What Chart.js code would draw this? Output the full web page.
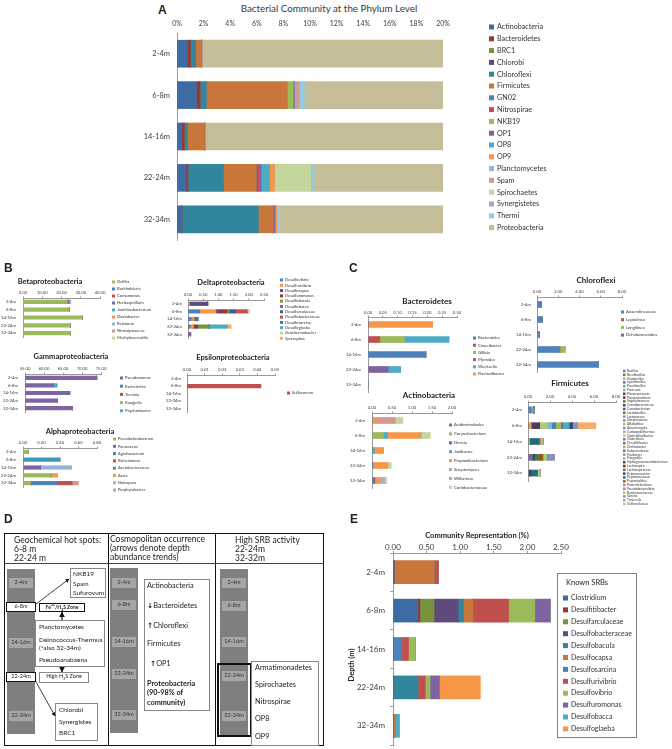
<!DOCTYPE html>
<html><head><meta charset="utf-8">
<script src="https://cdn.jsdelivr.net/npm/chart.js@4.4.1/dist/chart.umd.min.js"></script>
<style>
html,body{margin:0;padding:0;background:#fff;}
#page{position:relative;width:672px;height:749px;overflow:hidden;font-family:Lato,'Liberation Sans',sans-serif;color:#222;}
#page canvas{position:absolute;left:0;top:0;}
.t{position:absolute;white-space:nowrap;line-height:1;}
.b{position:absolute;box-sizing:border-box;}
</style></head><body><div id="page"></div>
<script>
// ---------------- DATA ----------------
const depths = ['2-4m','6-8m','14-16m','22-24m','32-34m'];

// Panel A – phylum level (% of community)
const phyla = ['Actinobacteria','Bacteroidetes','BRC1','Chlorobi','Chloroflexi','Firmicutes','GN02','Nitrospirae','NKB19','OP1','OP8','OP9','Planctomycetes','Spam','Spirochaetes','Synergistetes','Thermi','Proteobacteria'];
const phylumColors = ['#3D6CA4','#953735','#77933C','#604A7B','#31859C','#C8763A','#4F81BD','#C0504D','#9BBB59','#8064A2','#4BACC6','#F79646','#95B3D7','#D99694','#C3D69B','#B3A2C7','#93CDDD','#C4BD97'];
const phylumValues = [
  [0.78, 1.46, 0.35, 0.68, 0.37],
  [0.22, 0.27, 0.19, 0.11, 0],
  [0, 0, 0, 0.03, 0],
  [0, 0, 0, 0.03, 0],
  [0.41, 0.48, 0.25, 2.65, 5.75],
  [0.45, 6.05, 1.30, 2.45, 1.10],
  [0, 0, 0, 0, 0],
  [0, 0, 0, 0.25, 0.02],
  [0, 0.48, 0, 0, 0],
  [0, 0.08, 0, 0.12, 0.12],
  [0, 0, 0, 0.65, 0.02],
  [0, 0, 0, 0.35, 0.12],
  [0, 0.12, 0, 0, 0],
  [0, 0.25, 0, 0, 0],
  [0, 0, 0, 2.75, 0],
  [0, 0, 0, 0.03, 0],
  [0, 0.38, 0, 0.20, 0.22],
  [98.14, 90.46, 97.91, 89.74, 92.28]
];
const phylumTicks = ['0%','2%','4%','6%','8%','10%','12%','14%','16%','18%','20%'];

// Panel B – Proteobacteria classes
const betaNames = ['Delftia','Burkholderia','Comamonas','Herbaspirillum','Janthinobacterium','Oxalobacter','Ralstonia','Nitrosipiraceae','Methyloversatilis'];
const betaColors = ['#9BBB59','#4F81BD','#C0504D','#8064A2','#4BACC6','#F79646','#95B3D7','#D99694','#C3D69B'];
const betaValues = [
  [23.0, 24.0, 30.8, 24.6, 24.6],
  [0,0,0,0,0],[0,0,0,0,0],
  [0.8,0,0,0,0],
  [0,0,0.2,0,0],
  [0,0,0,0,0],
  [1.0,0,0,0,0],
  [0,0,0,0,0],
  [0,0.2,0,0.2,0.2]
];
const betaTicks = ['0.00','10.00','20.00','30.00','40.00'];

const deltaNames = ['Desulfovibrio','Desulfurivibrio','Desulfocapsa','Desulfuromonas','Desulfobacula','Desulfobacca','Desulfarculaceae','Desulfobacteraceae','Desulfosarcina','Desulfoglaeba','Geothermobacter','Syntrophus'];
const deltaColors = ['#4F81BD','#F79646','#604A7B','#953735','#77933C','#8064A2','#376092','#C0504D','#31859C','#4BACC6','#C3D69B','#F9AB6B'];
const deltaValues = [
  [0, 0.39, 0.10, 0.07, 0],
  [0.05, 0.53, 0.10, 0.11, 0],
  [0.60, 0.14, 0, 0, 0.02],
  [0, 0.22, 0, 0.14, 0],
  [0, 0.08, 0, 0.37, 0],
  [0, 0, 0, 0, 0.07],
  [0, 0.21, 0, 0, 0],
  [0, 0.37, 0, 0, 0],
  [0, 0, 0.13, 0, 0],
  [0, 0, 0, 0.61, 0],
  [0, 0.08, 0, 0, 0],
  [0, 0, 0, 0.12, 0]
];
const deltaTicks = ['0.00','0.50','1.00','1.50','2.00','2.50'];

const gammaNames = ['Pseudomonas','Escherichia','Yersinia','Kangiella','Psychrobacter'];
const gammaColors = ['#8064A2','#4F81BD','#C0504D','#9BBB59','#4BACC6'];
const gammaValues = [
  [73.9, 62.5, 66.8, 63.6, 67.5],
  [0,0,0,0,0],[0,0,0,0,0],[0,0,0,0,0],
  [0, 1.0, 0, 0, 0]
];
const gammaTicks = ['55.00','60.00','65.00','70.00','75.00'];

const epsilonNames = ['Sulfurovum'];
const epsilonColors = ['#C0504D'];
const epsilonValues = [[0, 0.042, 0, 0, 0]];
const epsilonTicks = ['0.00','0.01','0.02','0.03','0.04','0.05'];

const alphaNames = ['Pseudochrobactrum','Paracoccus','Agrobacterium','Balneimonas','Acetobacteraceae','Asaia','Holospora','Porphyrobacter'];
const alphaColors = ['#9BBB59','#8064A2','#4F81BD','#C0504D','#3C9AB8','#F79646','#95B3D7','#D99694'];
const alphaValues = [
  [0.058, 0, 0, 0.30, 0.08],
  [0, 0, 0.19, 0, 0],
  [0, 0, 0, 0, 0.29],
  [0, 0, 0, 0, 0.16],
  [0, 0.40, 0, 0, 0],
  [0, 0, 0, 0.07, 0],
  [0, 0, 0.335, 0, 0],
  [0, 0, 0, 0, 0.07]
];
const alphaTicks = ['0.00','0.20','0.40','0.60','0.80'];

// Panel C – other phyla
const bactNames = ['Bacteroides','Croceibacter','Gillisia','Myroides','Weeksella','Flavisolibacter'];
const bactColors = ['#4F81BD','#C0504D','#9BBB59','#8064A2','#4BACC6','#F79646'];
const bactValues = [
  [0, 0, 0.195, 0, 0],
  [0, 0.04, 0, 0, 0],
  [0, 0.083, 0, 0, 0],
  [0, 0, 0, 0.068, 0],
  [0, 0.15, 0, 0.042, 0],
  [0.218, 0, 0, 0, 0]
];
const bactTicks = ['0.00','0.05','0.10','0.15','0.20','0.25','0.30'];

const actNames = ['Acidimicrobiales','Corynebacterium','Dietzia','Janibacter','Propionibacterium','Streptomyces','Williamsia','Coriobacteriaceae'];
const actColors = ['#4F81BD','#9BBB59','#8064A2','#4BACC6','#F79646','#95B3D7','#D99694','#C3D69B'];
const actValues = [
  [0, 0, 0, 0.02, 0],
  [0, 0.29, 0, 0, 0],
  [0, 0, 0, 0, 0.07],
  [0, 0.10, 0.06, 0, 0],
  [0.14, 0.82, 0.23, 0.37, 0.14],
  [0, 0.03, 0, 0, 0.10],
  [0.44, 0, 0, 0, 0],
  [0.19, 0.22, 0, 0.09, 0.06]
];
const actTicks = ['0.00','0.50','1.00','1.50','2.00'];

const chlNames = ['Anaerolineaceae','Leptolinea','Longilinea','Dehalococcoides'];
const chlColors = ['#4F81BD','#C0504D','#9BBB59','#8064A2'];
const chlValues = [
  [0.41, 0.50, 0.25, 2.15, 5.80],
  [0,0,0,0,0],
  [0, 0, 0, 0.50, 0],
  [0,0,0,0,0]
];
const chlTicks = ['0.00','2.00','4.00','6.00','8.00'];

const firmNames = ['Bacillus','Brevibacillus','Geobacillus','Lysinibacillus','Paenibacillus','Pasteuria','Planococcaceae','Planomicrobium','Staphylococcus','Carnobacteriaceae','Carnobacterium','Lactobacillus','Lactococcus','Streptococcus','Alkaliphilus','Anaerovirgula','Carboxydothermus','Clostridiisalibacter','Clostridium','Desulfitibacter','Dethiobacter','Eubacteriaceae','Fusibacter','Finegoldia','Hydrogenoanaerobacterium','Lachnospira','Lachnospiraceae','Pelotomaculum','Peptococcaceae','Peptoniphilus','Proteiniclasticum','Pseudobutyrivibrio','Ruminococcaceae','Sarcina','Tissierella','Veillonellaceae'];
const firmPalette = ['#4F81BD','#C0504D','#9BBB59','#8064A2','#4BACC6','#F79646','#2C4D75','#772C2A','#5F7530','#4D3B62','#276A7C','#B65708','#729ACA','#CD7371','#AFC97A','#9983B5','#6FBDD1','#F9AB6B'];
const firmValues = [
  [0.20,0,0,0,0],[0,0,0,0,0],[0,0,0.15,0,0],[0,0,0,0.35,0],[0.33,0,0,0,0],
  [0,0.30,0,0,0],[0,0,0,0.25,0.25],[0,0,0,0,0],[0,0,0,0.50,0],[0,0.76,0,0,0],
  [0,0,0.85,0,0.60],[0,0,0,0.25,0],[0,0,0,0,0],[0,0,0.15,0,0],[0,0.76,0.20,0.35,0.25],
  [0,0,0,0,0],[0,0.30,0,0,0],[0,0,0,0,0],[0,0.37,0,0,0],[0,0.03,0,0,0],
  [0,0.45,0,0,0],[0,0.20,0,0,0],[0,0.55,0,0,0],[0,0,0,0,0],[0,0.30,0,0,0],
  [0,0,0,0,0],[0,0,0,0,0],[0,0,0,0,0],[0,0,0,0,0],[0,0,0,0,0],
  [0,0.45,0,0.40,0],[0,0,0,0,0],[0,0,0,0,0],[0,0,0,0.30,0],[0,0,0,0,0],
  [0,1.70,0,0,0]
];
const firmTicks = ['0.00','2.00','4.00','6.00','8.00'];

// Panel E – known sulfate-reducing bacteria
const srbNames = ['Clostridium','Desulfitibacter','Desulfarculaceae','Desulfobacteraceae','Desulfobacula','Desulfocapsa','Desulfosarcina','Desulfurivibrio','Desulfovibrio','Desulfuromonas','Desulfobacca','Desulfoglaeba'];
const srbColors = ['#3D6CA4','#953735','#77933C','#604A7B','#31859C','#C8763A','#4F81BD','#C0504D','#9BBB59','#8064A2','#4BACC6','#F79646'];
const srbValues = [
  [0.015, 0.37, 0, 0, 0],
  [0, 0.03, 0, 0, 0],
  [0, 0.21, 0, 0, 0],
  [0, 0.36, 0, 0, 0],
  [0, 0.08, 0, 0.37, 0],
  [0.60, 0.14, 0, 0, 0.025],
  [0, 0, 0.13, 0, 0],
  [0.06, 0.53, 0.10, 0.11, 0],
  [0, 0.39, 0.10, 0.07, 0],
  [0, 0.23, 0, 0.14, 0],
  [0, 0, 0, 0, 0.07],
  [0, 0, 0, 0.61, 0]
];
const srbTicks = ['0.00','0.50','1.00','1.50','2.00','2.50'];

// ---------------- HELPERS ----------------
const page = document.getElementById('page');
const W = 672, H = 749;
const FONT = "Lato, 'Liberation Sans', sans-serif";

function txt(s, x, y, size, o = {}) {
  const d = document.createElement('div');
  d.className = 't';
  if (o.html) d.innerHTML = s; else d.textContent = s;
  d.style.left = x + 'px'; d.style.top = y + 'px';
  d.style.fontSize = size + 'px';
  d.style.fontWeight = o.bold ? '700' : '400';
  d.style.color = o.color || '#222';
  if (o.family) d.style.fontFamily = o.family;
  const tx = o.align === 'center' ? '-50%' : (o.align === 'right' ? '-100%' : '0');
  d.style.transform = `translate(${tx},-50%)` + (o.rot ? ` rotate(${o.rot}deg)` : '');
  page.appendChild(d);
  return d;
}
function box(x, y, w, h, border, bg) {
  const d = document.createElement('div');
  d.className = 'b';
  d.style.cssText += `left:${x}px;top:${y}px;width:${w}px;height:${h}px;border:${border || 'none'};background:${bg || 'transparent'};`;
  page.appendChild(d);
  return d;
}

const legendPlugin = {
  id: 'boxLegend',
  afterDraw(chart, args, o) {
    if (!o || o.x === undefined) return;
    const ctx = chart.ctx;
    ctx.save();
    ctx.font = `${o.size}px ${FONT}`;
    ctx.textBaseline = 'middle';
    chart.data.datasets.forEach((ds, i) => {
      const y = o.y + i * o.dy;
      ctx.fillStyle = ds.backgroundColor;
      ctx.fillRect(o.x, y - o.box / 2, o.box, o.box);
      ctx.fillStyle = '#333';
      ctx.fillText(ds.label, o.x + o.box + o.gap, y);
    });
    ctx.restore();
  }
};

function hbar(cfg) {
  const c = document.createElement('canvas');
  c.width = W; c.height = H;
  c.style.width = W + 'px'; c.style.height = H + 'px';
  page.appendChild(c);
  const a = cfg.area;
  const xtl = cfg.xTickLen || 0;
  const ytl = cfg.yTickLen || 0;
  const tickPad = a.t - cfg.tickY - 0.6 * cfg.tick - xtl;
  const catPad = a.l - cfg.catRight - ytl;
  return new Chart(c, {
    type: 'bar',
    data: {
      labels: depths,
      datasets: cfg.names.map((n, i) => ({
        label: n, data: cfg.values[i], backgroundColor: cfg.colors[i],
        borderWidth: 0, barThickness: cfg.thick, categoryPercentage: 1, barPercentage: 1
      }))
    },
    options: {
      indexAxis: 'y', responsive: false, animation: false, devicePixelRatio: 1,
      layout: { padding: { left: 0, top: 0, right: W - a.r, bottom: H - a.b } },
      plugins: { legend: { display: false }, tooltip: { enabled: false }, title: { display: false }, boxLegend: cfg.legend },
      scales: {
        x: {
          position: 'top', stacked: true, min: cfg.min, max: cfg.max,
          ticks: { stepSize: cfg.step, autoSkip: false, maxRotation: 0, minRotation: 0,
            callback: (v, i) => cfg.tickLabels[i], font: { family: FONT, size: cfg.tick }, color: '#404040', padding: tickPad },
          grid: { display: xtl > 0, drawOnChartArea: false, drawTicks: xtl > 0, tickLength: xtl, color: '#9a9a9a' },
          border: { display: !!cfg.xBorder, color: '#9a9a9a' },
          afterFit(s) { s.height = a.t; s.paddingLeft = 0; s.paddingRight = 0; }
        },
        y: {
          stacked: true,
          ticks: { autoSkip: false, font: { family: FONT, size: cfg.cat }, color: '#404040', padding: catPad },
          grid: { display: ytl > 0, offset: true, drawOnChartArea: false, drawTicks: ytl > 0, tickLength: ytl, color: '#9a9a9a' },
          border: { display: true, color: '#9a9a9a' },
          afterFit(s) { s.width = a.l; s.paddingTop = 0; s.paddingBottom = 0; }
        }
      }
    },
    plugins: [legendPlugin]
  });
}

// ---------------- PANEL A ----------------
txt('A', 158, 10, 12, { bold: true, family: "'Liberation Sans',Arial,sans-serif" });
txt('Bacterial Community at the Phylum Level', 329, 9, 9.8, { align: 'center', color: '#3a3a3a' });
hbar({ area: { l: 177, t: 33, r: 443, b: 240 }, thick: 27, min: 0, max: 20, step: 2, tickLabels: phylumTicks,
  tick: 7, tickY: 24, cat: 7.5, catRight: 170, names: phyla, colors: phylumColors, values: phylumValues,
  legend: { x: 489, y: 27, dy: 11.8, box: 5, gap: 3, size: 7.2 } });

// ---------------- PANEL B ----------------
txt('B', 4, 268, 12, { bold: true, family: "'Liberation Sans',Arial,sans-serif" });
txt('Betaproteobacteria', 50, 282, 7.5, { bold: true, align: 'center' });
hbar({ area: { l: 23, t: 298, r: 100, b: 337 }, thick: 3.5, min: 0, max: 40, step: 10, tickLabels: betaTicks,
  tick: 4.2, tickY: 293, cat: 4.3, catRight: 16, xBorder: true, xTickLen: 1.5, names: betaNames, colors: betaColors, values: betaValues,
  legend: { x: 112, y: 282, dy: 7, box: 3, gap: 2, size: 4.2 } });

txt('Deltaproteobacteria', 231, 283, 7.5, { bold: true, align: 'center' });
hbar({ area: { l: 188, t: 300, r: 264, b: 338 }, thick: 3.5, min: 0, max: 2.5, step: 0.5, tickLabels: deltaTicks,
  tick: 4.2, tickY: 295, cat: 4.3, catRight: 182, xBorder: true, xTickLen: 1.5, names: deltaNames, colors: deltaColors, values: deltaValues,
  legend: { x: 280, y: 280, dy: 5.3, box: 3, gap: 2, size: 4 } });

txt('Gammaproteobacteria', 71, 357, 7.5, { bold: true, align: 'center' });
hbar({ area: { l: 25, t: 374, r: 101, b: 412 }, thick: 3.5, min: 55, max: 75, step: 5, tickLabels: gammaTicks,
  tick: 4.2, tickY: 369, cat: 4.3, catRight: 18, xBorder: true, xTickLen: 1.5, names: gammaNames, colors: gammaColors, values: gammaValues,
  legend: { x: 120, y: 378, dy: 8.2, box: 3, gap: 2, size: 4.2 } });

txt('Epsilonproteobacteria', 233, 358, 7.5, { bold: true, align: 'center' });
hbar({ area: { l: 187, t: 375, r: 275, b: 412 }, thick: 3.5, min: 0, max: 0.05, step: 0.01, tickLabels: epsilonTicks,
  tick: 4.2, tickY: 370, cat: 4.3, catRight: 181, xBorder: true, xTickLen: 1.5, names: epsilonNames, colors: epsilonColors, values: epsilonValues,
  legend: { x: 287, y: 393, dy: 0, box: 3, gap: 2, size: 4.2 } });

txt('Alphaproteobacteria', 80, 432, 7.5, { bold: true, align: 'center' });
hbar({ area: { l: 23, t: 448, r: 97, b: 487 }, thick: 3.5, min: 0, max: 0.8, step: 0.2, tickLabels: alphaTicks,
  tick: 4.2, tickY: 443, cat: 4.3, catRight: 16, xBorder: true, xTickLen: 1.5, names: alphaNames, colors: alphaColors, values: alphaValues,
  legend: { x: 113, y: 439, dy: 7.3, box: 3, gap: 2, size: 4 } });

// ---------------- PANEL C ----------------
txt('C', 349, 268, 12, { bold: true, family: "'Liberation Sans',Arial,sans-serif" });
txt('Bacteroidetes', 427, 301, 8, { bold: true, align: 'center' });
hbar({ area: { l: 368, t: 317, r: 457, b: 392 }, thick: 6, min: 0, max: 0.3, step: 0.05, tickLabels: bactTicks,
  tick: 4.2, tickY: 313, cat: 4.3, catRight: 361, xBorder: true, xTickLen: 1.5, names: bactNames, colors: bactColors, values: bactValues,
  legend: { x: 473, y: 338, dy: 7.2, box: 3, gap: 2, size: 4.2 } });

txt('Actinobacteria', 429, 395, 8, { bold: true, align: 'center' });
hbar({ area: { l: 372, t: 413, r: 452, b: 488 }, thick: 6, min: 0, max: 2, step: 0.5, tickLabels: actTicks,
  tick: 4.2, tickY: 408, cat: 4.3, catRight: 365, xBorder: true, xTickLen: 1.5, names: actNames, colors: actColors, values: actValues,
  legend: { x: 449, y: 425, dy: 8.9, box: 3, gap: 2, size: 4.2 } });

txt('Chloroflexi', 596, 280, 8, { bold: true, align: 'center' });
hbar({ area: { l: 537, t: 297, r: 622, b: 372 }, thick: 6, min: 0, max: 8, step: 2, tickLabels: chlTicks,
  tick: 4.2, tickY: 292, cat: 4.3, catRight: 531, xBorder: true, xTickLen: 1.5, names: chlNames, colors: chlColors, values: chlValues,
  legend: { x: 621, y: 312, dy: 7.7, box: 3, gap: 2, size: 4.2 } });

txt('Firmicutes', 570, 383, 8, { bold: true, align: 'center' });
hbar({ area: { l: 528, t: 402, r: 616, b: 481 }, thick: 6, min: 0, max: 8, step: 2, tickLabels: firmTicks,
  tick: 4.2, tickY: 397, cat: 4.3, catRight: 522, xBorder: true, xTickLen: 1.5, names: firmNames,
  colors: firmNames.map((n, i) => firmPalette[i % firmPalette.length]), values: firmValues,
  legend: { x: 623, y: 371, dy: 3.8, box: 2.5, gap: 1.5, size: 3.3 } });

// ---------------- PANEL E ----------------
txt('E', 350, 519, 12, { bold: true, family: "'Liberation Sans',Arial,sans-serif" });
txt('Community Representation (%)', 477, 536, 7.5, { bold: true, align: 'center' });
txt('Depth (m)', 352, 665, 7.5, { bold: true, align: 'center', rot: -90 });
hbar({ area: { l: 393, t: 553, r: 561, b: 745 }, thick: 23, min: 0, max: 2.5, step: 0.5, tickLabels: srbTicks,
  tick: 8, tickY: 547, cat: 8, catRight: 385, xBorder: true, xTickLen: 2, yTickLen: 3, names: srbNames, colors: srbColors, values: srbValues,
  legend: { x: 563, y: 598, dy: 11.9, box: 5, gap: 3, size: 7 } });
box(557, 573, 80, 165, '1px solid #7f7f7f');
txt('Known SRBs', 566, 583, 7.5);

// ---------------- PANEL D ----------------
txt('D', 4, 519, 12, { bold: true, family: "'Liberation Sans',Arial,sans-serif" });
box(4, 533, 320, 213, '1.5px solid #111');
box(108, 533, 1, 213, 'none', '#111');
box(215, 533, 1, 213, 'none', '#111');
box(5, 563, 318, 1, 'none', '#444');

txt('Geochemical hot spots:', 14, 540, 8.5);
txt('6-8 m', 14, 549, 8.5);
txt('22-24 m', 14, 558, 8.5);
txt('Cosmopolitan occurrence', 110, 539, 8.5);
txt('(arrows denote depth', 110, 548, 8.5);
txt('abundance trends)', 110, 557, 8.5);
txt('High SRB activity', 235, 540, 8.5);
txt('22-24m', 235, 549, 8.5);
txt('32-32m', 235, 558, 8.5);

function depthColumn(x, top, bottom, ys, special) {
  box(x, top, 28, bottom - top, 'none', '#7f7f7f');
  depths.forEach((d, i) => {
    if (special && special.includes(i)) {
      box(x - 1, ys[i] - 5, 30, 10, '1.5px solid #111', '#fff');
      txt(d, x + 14, ys[i], 5.5, { align: 'center', color: '#222' });
    } else {
      box(x + 2, ys[i] - 5, 24, 10, 'none', '#a6a6a6');
      txt(d, x + 14, ys[i], 5.5, { align: 'center', color: '#333' });
    }
  });
}
depthColumn(7, 569, 734, [583, 607, 643, 677, 716], [1, 3]);
depthColumn(110, 568, 733, [583, 605, 642, 674, 715]);
depthColumn(220, 569, 735, [583, 606, 642, 676, 716]);
box(217, 663, 35, 74, '2px solid #111');

// column 1 boxes
box(70, 568, 36, 30, '1px solid #888', '#fff');
txt('NKB19', 73, 574, 6.5); txt('Spam', 73, 584, 6.5); txt('Sufurovum', 73, 593, 6.5);
box(39, 603, 46, 9, '1.5px solid #111', '#fff');
txt('Fe<sup style="font-size:3.5px">2+</sup>/H<sub style="font-size:3.5px">2</sub>S Zone', 62, 607.5, 5, { align: 'center', bold: true, html: true });
box(35, 620, 70, 47, '1px solid #888', '#fff');
txt('Planctomycetes', 39, 627, 6.5); txt('Deinococcus-Thermus', 39, 640, 6.5);
txt('(*also 32-34m)', 39, 648, 6.5); txt('Pseudoanabaena', 39, 660, 6.5);
box(39, 672, 50, 11, '1px solid #888', '#fff');
txt('High H<sub style="font-size:3.5px">2</sub>S Zone', 64, 677.5, 5.5, { align: 'center', html: true });
box(55, 703, 43, 38, '1px solid #888', '#fff');
txt('Chlorobi', 59, 710, 6.5); txt('Synergistes', 59, 722, 6.5); txt('BRC1', 59, 733, 6.5);

// column 2 box
box(144, 579, 66, 132, '1px solid #888', '#fff');
txt('Actinobacteria', 147, 586, 7.3);
txt('<b style="font-family:DejaVu Sans">↓</b>Bacteroidetes', 147, 606, 7.3, { html: true });
txt('<b style="font-family:DejaVu Sans">↑</b>Chloroflexi', 147, 626, 7.3, { html: true });
txt('Firmicutes', 147, 644, 7.3);
txt('<b style="font-family:DejaVu Sans">↑</b>OP1', 150, 664, 7.3, { html: true });
txt('Proteobacteria', 147, 684, 7.3, { bold: true });
txt('(90-98% of', 147, 693, 7.3, { bold: true });
txt('community)', 147, 703, 7.3, { bold: true });

// column 3 box
box(251, 661, 68, 85, '1px solid #888', '#fff');
txt('Armatimonadetes', 255, 668, 7.3); txt('Spirochaetes', 255, 685, 7.3);
txt('Nitrospirae', 255, 702, 7.3); txt('OP8', 255, 719, 7.3); txt('OP9', 255, 737, 7.3);

// arrows
const svgNS = 'http://www.w3.org/2000/svg';
const svg = document.createElementNS(svgNS, 'svg');
svg.setAttribute('width', W); svg.setAttribute('height', H);
svg.style.cssText = 'position:absolute;left:0;top:0;pointer-events:none;';
svg.innerHTML = `<defs><marker id="ah" viewBox="0 0 10 10" refX="9" refY="5" markerWidth="5" markerHeight="5" orient="auto"><path d="M0,0 L10,5 L0,10 z" fill="#111"/></marker></defs>
<line x1="36" y1="604" x2="69" y2="579" stroke="#111" stroke-width="0.8" marker-end="url(#ah)"/>
<line x1="62" y1="620" x2="62" y2="612" stroke="#111" stroke-width="1.2" marker-end="url(#ah)"/>
<line x1="62" y1="667" x2="62" y2="672" stroke="#111" stroke-width="1.2" marker-end="url(#ah)"/>
<line x1="35" y1="680" x2="55" y2="716" stroke="#111" stroke-width="0.8" marker-end="url(#ah)"/>`;
page.appendChild(svg);
</script>
</body></html>
